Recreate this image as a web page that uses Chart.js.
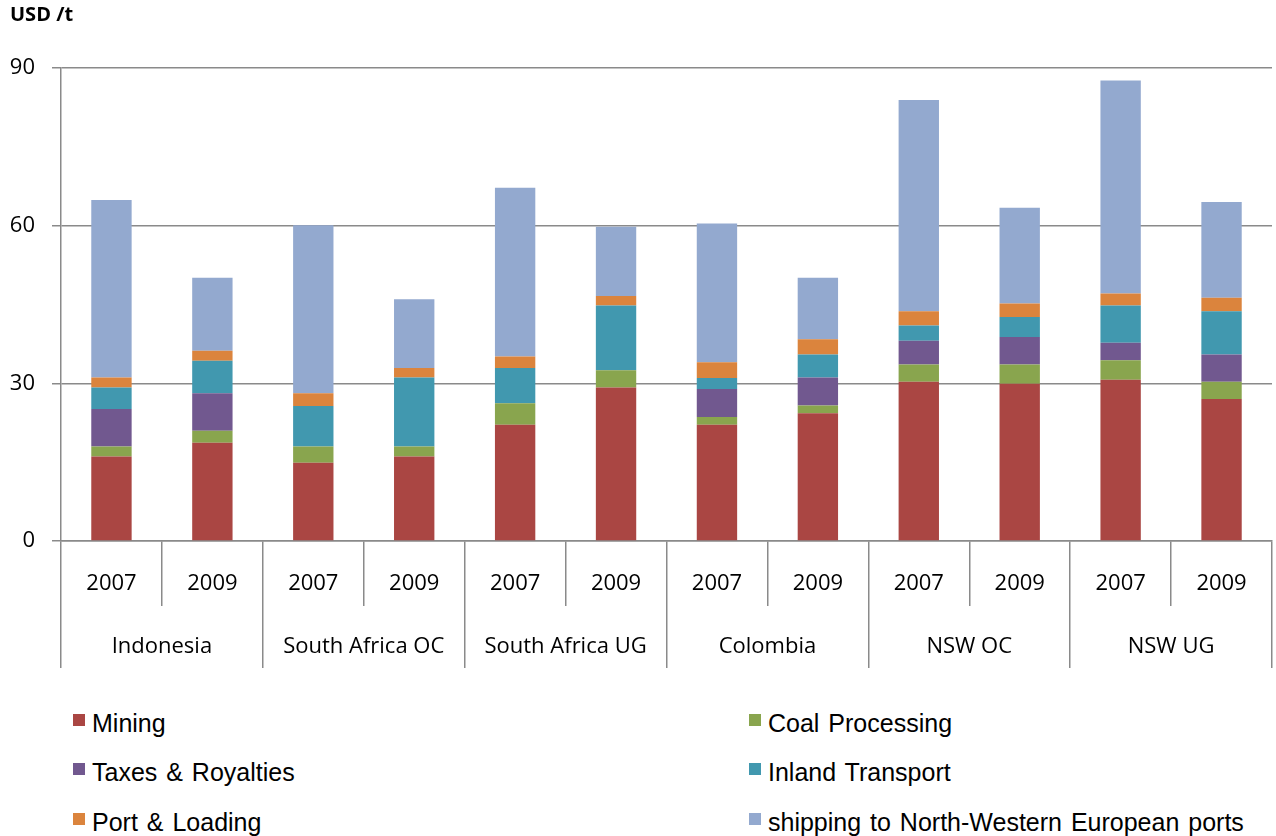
<!DOCTYPE html>
<html>
<head>
<meta charset="utf-8">
<script src="https://cdn.jsdelivr.net/npm/chart.js@4"></script>
<style>
    html, body { margin: 0; padding: 0; background: #fff; }
    #wrap { position: relative; width: 1276px; height: 836px; overflow: hidden; }
    #chartBox { position: absolute; left: 0; top: 0; width: 1276px; height: 680px; }
    .lg-box { position: absolute; width: 12px; height: 12px; }
    .lg-text { position: absolute; font: 25px "Liberation Sans", Arial, sans-serif; line-height: 25px; color: #000;
               white-space: nowrap; word-spacing: 2px; }
</style>
</head>
<body>
<div id="wrap">
    <div id="chartBox"><canvas id="chart"></canvas></div>
    <div id="legend"></div>
</div>
<script>
// categories: year per bar, country per pair of bars
const years     = ['2007', '2009', '2007', '2009', '2007', '2009', '2007', '2009', '2007', '2009', '2007', '2009'];
const countries = ['Indonesia', 'South Africa OC', 'South Africa UG', 'Colombia', 'NSW OC', 'NSW UG'];
const yTicks    = [0, 30, 60, 90];

// USD/t cost components
const mining    = [16.1, 18.7, 14.9, 16.1, 22.1, 29.2, 22.1, 24.3, 30.3, 29.9, 30.7, 27.0];
const coalProc  = [ 1.9,  2.3,  3.1,  1.9,  4.1,  3.3,  1.5,  1.5,  3.3,  3.7,  3.7,  3.3];
const taxes     = [ 7.1,  7.1,  0.0,  0.0,  0.0,  0.0,  5.3,  5.3,  4.5,  5.2,  3.3,  5.2];
const inland    = [ 4.1,  6.2,  7.7, 13.1,  6.7, 12.3,  2.1,  4.4,  2.9,  3.8,  7.1,  8.2];
const port      = [ 1.9,  1.9,  2.4,  1.8,  2.2,  1.8,  3.0,  2.9,  2.7,  2.6,  2.3,  2.6];
const shipping  = [33.8, 13.9, 32.0, 13.1, 32.1, 13.2, 26.4, 11.7, 40.2, 18.2, 40.5, 18.2];

const seriesNames  = ['Mining', 'Coal Processing', 'Taxes & Royalties', 'Inland Transport', 'Port & Loading', 'shipping to North-Western European ports'];
const seriesData   = [mining, coalProc, taxes, inland, port, shipping];
const seriesColors = ['#AA4643', '#89A54E', '#71588F', '#4198AF', '#DB843D', '#93A9CF'];

const tickFont = { family: '"Open Sans", sans-serif', size: 22 };
const axisGray = '#8a8a8a';

const datasets = seriesNames.map((name, i) => ({
    label: name,
    data: seriesData[i],
    backgroundColor: seriesColors[i],
    borderWidth: 0,
    barPercentage: 0.4,
    categoryPercentage: 1.0
}));

new Chart(document.getElementById('chart'), {
    type: 'bar',
    data: { labels: years, datasets },
    options: {
        responsive: true,
        maintainAspectRatio: false,
        animation: false,
        layout: { padding: { left: 10, right: 4, top: 0, bottom: 12 } },
        plugins: {
            legend: { display: false },
            tooltip: { enabled: false },
            title: {
                display: true,
                text: 'USD /t',
                align: 'start',
                color: '#000',
                font: { family: '"Open Sans", sans-serif', size: 20, weight: 'bold' },
                padding: { top: 3, bottom: 41 }
            }
        },
        scales: {
            x: {
                stacked: true,
                offset: true,
                grid: { offset: true, drawOnChartArea: false, drawTicks: true, tickLength: 65, color: axisGray, lineWidth: 1.5 },
                border: { display: true, color: axisGray, width: 1.5 },
                ticks: { color: '#000', font: tickFont, padding: -35, maxRotation: 0, autoSkip: false },
                afterFit: s => { s.height = 65; }
            },
            x2: {
                type: 'category',
                labels: countries,
                position: 'bottom',
                offset: true,
                grid: { offset: true, drawOnChartArea: false, drawTicks: true, tickLength: 62, color: axisGray, lineWidth: 1.5 },
                border: { display: false },
                ticks: { color: '#000', font: tickFont, padding: -34, maxRotation: 0, autoSkip: false },
                afterFit: s => { s.height = 62; }
            },
            y: {
                stacked: true,
                min: 0,
                max: 90,
                afterBuildTicks: s => { s.ticks = yTicks.map(v => ({ value: v })); },
                grid: { color: axisGray, lineWidth: 1.5, tickLength: 9 },
                border: { display: true, color: axisGray, width: 1.5 },
                ticks: { color: '#000', font: tickFont, padding: 17 },
                afterFit: s => { s.width = 51; }
            }
        }
    }
});

// two-column legend under the chart
const legend = document.getElementById('legend');
const colX   = [73, 749];
const rowY   = [714, 763, 813];
seriesNames.forEach((name, i) => {
    const x = colX[i % 2];
    const y = rowY[Math.floor(i / 2)];
    const box = document.createElement('div');
    box.className = 'lg-box';
    box.style.left = x + 'px';
    box.style.top  = y + 'px';
    box.style.background = seriesColors[i];
    const txt = document.createElement('div');
    txt.className = 'lg-text';
    txt.style.left = (x + 19) + 'px';
    txt.style.top  = (y - 3) + 'px';
    txt.textContent = name;
    legend.appendChild(box);
    legend.appendChild(txt);
});
</script>
</body>
</html>
